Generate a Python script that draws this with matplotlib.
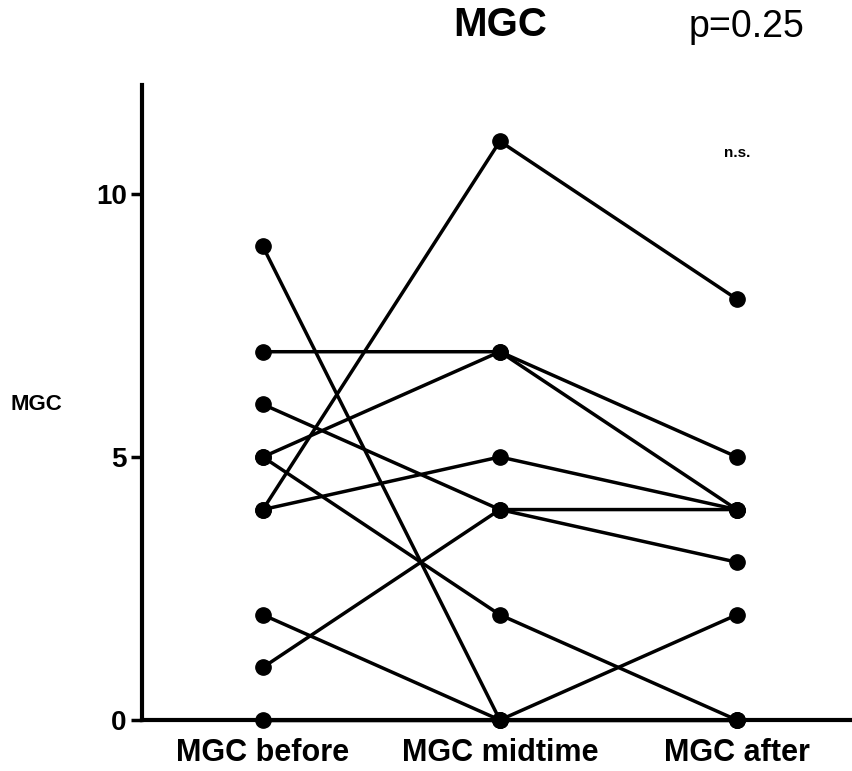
import matplotlib
matplotlib.use("Agg")
import matplotlib.pyplot as plt

# MGC score per subject at the three time points
groups = ["MGC before", "MGC midtime", "MGC after"]
mgc_before = [9, 7, 6, 5, 5, 4, 4, 2, 1, 0]
mgc_midtime = [0, 7, 4, 7, 2, 11, 5, 0, 4, 0]
mgc_after = [2, 5, 4, 4, 0, 8, 4, 0, 3, 0]
y_ticks = [0, 5, 10]
p_text = "p=0.25"
sig_text = "n.s."

plt.rcParams['font.family'] = ['Liberation Sans', 'DejaVu Sans']

fig = plt.figure(figsize=(8.53, 7.71), dpi=100)
ax = fig.add_axes([0.1665, 0.0661, 0.8335, 0.8237])

xs = range(len(groups))
for b, m, a in zip(mgc_before, mgc_midtime, mgc_after):
    ax.plot(xs, [b, m, a], color='black', linewidth=2.5, marker='o',
            markersize=11, clip_on=False, zorder=3)

ax.set_xlim(-0.51, 2.49)
ax.set_ylim(0, 12.07)
ax.set_yticks(y_ticks)
ax.set_yticklabels([str(t) for t in y_ticks], fontsize=20, fontweight='bold')
ax.set_xticks(list(xs))
ax.set_xticklabels(groups, fontsize=22, fontweight='bold')
ax.tick_params(axis='y', length=8, width=2.5, pad=3)
ax.tick_params(axis='x', length=5, width=2.5, pad=8)

for s in ['top', 'right']:
    ax.spines[s].set_visible(False)
for s in ['left', 'bottom']:
    ax.spines[s].set_linewidth(3)

ax.set_ylabel("MGC", fontsize=16, fontweight='bold', rotation=0, labelpad=0,
              va='center', ha='center')
ax.yaxis.set_label_coords(-0.148, 0.497)

fig.text(0.586, 0.967, "MGC", fontsize=29, fontweight='bold', ha='center', va='center')
fig.text(0.875, 0.965, p_text, fontsize=27, ha='center', va='center')
ax.text(2, 10.78, sig_text, fontsize=11, fontweight='bold', ha='center', va='center')

fig.savefig("out.png", dpi=100)
